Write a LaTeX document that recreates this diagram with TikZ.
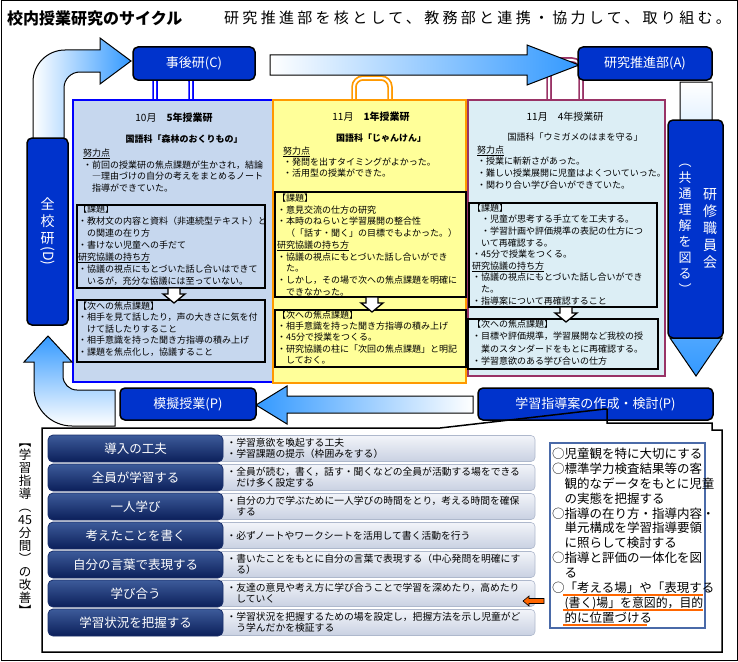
\documentclass[tikz,border=0pt]{standalone}
\usepackage{fontspec}
\usepackage{graphicx}
\setmainfont{Noto Sans CJK JP}
\newfontfamily\spacedjp{Noto Sans CJK JP}[LetterSpace=22]
\definecolor{dblue}{HTML}{0033CC}
\definecolor{lpanel}{HTML}{C6D7EE}
\definecolor{ypanel}{HTML}{FFFF99}
\definecolor{cpanel}{HTML}{DCEEF5}
\definecolor{orng}{HTML}{FF9900}
\definecolor{maroonc}{HTML}{993366}
\definecolor{arrblue}{HTML}{3399FF}
\definecolor{navytop}{HTML}{3D5B9A}
\definecolor{navybot}{HTML}{0B1F5A}
\definecolor{navyedge}{HTML}{1A2F6A}
\definecolor{desctop}{HTML}{F2F4F9}
\definecolor{descbot}{HTML}{C9D1E2}
\definecolor{descedge}{HTML}{AEB8CC}
\definecolor{listblue}{HTML}{4A6AA8}
\definecolor{ulorange}{HTML}{FF6600}
\begin{document}
\begin{tikzpicture}[x=1pt,y=-1pt,
  ptext/.style={anchor=north west, inner sep=0pt, align=left, font=\fontsize{9}{11.8}\selectfont},
  ttext/.style={inner sep=0pt, font=\fontsize{10}{12}\selectfont},
  stext/.style={inner sep=0pt, font=\fontsize{9}{11}\selectfont},
  pbox/.style={draw=black, line width=1.3pt},
  darkbox/.style={draw=black, line width=1.5pt, fill=dblue, rounded corners=5pt, text=white, font=\fontsize{13}{15}\selectfont, inner sep=0pt},
  vtext/.style={inner sep=0pt, text=white, align=center},
  rowbox/.style={draw=navyedge, line width=0.8pt, rounded corners=5pt, top color=navytop, bottom color=navybot, text=white, font=\fontsize{12.5}{14}\selectfont, minimum width=175pt, minimum height=27pt, inner sep=0pt},
  descbox/.style={draw=descedge, line width=0.6pt, rounded corners=4pt, top color=desctop, bottom color=descbot, text width=300pt, align=left, font=\fontsize{9.8}{11}\selectfont, minimum width=317pt, minimum height=26pt, inner xsep=0pt, inner ysep=0pt},
  ringout/.style={line width=5.5pt, rounded corners=9pt},
  ringin/.style={line width=2pt, white, rounded corners=9pt},
  blockarrow/.style={draw=black, line width=1pt},
  downarr/.pic={\draw[fill=white, line width=1.3pt] (-6,0) -- (6,0) -- (6,6) -- (11,6) -- (0,15) -- (-11,6) -- (-6,6) -- cycle;}
]
\useasboundingbox (0,0) rectangle (738,661);
\draw[line width=1pt] (1,1) rectangle (737,660);

% title
\node[anchor=west, inner sep=0pt, font=\fontsize{16}{18}\selectfont\bfseries] (title) at (7,18) {校内授業研究のサイクル};
\node[anchor=west, inner sep=0pt, font=\fontsize{15}{18}\selectfont\spacedjp] (subtitle) at (224,18) {研究推進部を核として、教務部と連携・協力して、取り組む。};

% rings
\draw[ringout, blue] (155,106) |- (191,72) -- (191,106);
\draw[ringin] (155,106) |- (191,72) -- (191,106);
\draw[ringout, orng] (354,106) |- (390,78) -- (390,106);
\draw[ringin] (354,106) |- (390,78) -- (390,106);
\draw[ringout, maroonc] (549,106) |- (581,60) -- (581,106);
\draw[ringin] (549,106) |- (581,60) -- (581,106);

% panels
\draw[line width=2pt, draw=blue, fill=lpanel] (73,100) rectangle (275,382);
\draw[line width=2pt, draw=orng, fill=ypanel] (273,100) rectangle (466,383);
\draw[line width=2pt, draw=maroonc, fill=cpanel] (468,100) rectangle (665,376);

% left panel
\node[ttext] (lt1) at (174,118) {10月　\textbf{5年授業研}};
\node[stext, font=\fontsize{9}{11}\selectfont\bfseries] (lt2) at (184,139) {国語科「森林のおくりもの」};
\node[ptext] (lp1) at (83,148.5) {\underline{努力点}\\・前回の授業研の焦点課題が生かされ，結論\\　―理由づけの自分の考えをまとめるノート\\　指導ができていた。};
\draw[pbox] (77,205) rectangle (265,288);
\node[ptext, font=\fontsize{9}{12}\selectfont] (lp2) at (78,204.5) {【課題】\\・教材文の内容と資料（非連続型テキスト）と\\　の関連の在り方\\・書けない児童への手だて\\\underline{研究協議の持ち方}\\・協議の視点にもとづいた話し合いはできて\\　いるが，充分な協議には至っていない。};
\draw[pbox] (77,300) rectangle (265,362);
\node[ptext, font=\fontsize{9}{11.5}\selectfont] (lp3) at (78,301.5) {【次への焦点課題】\\・相手を見て話したり，声の大きさに気を付\\　けて話したりすること\\・相手意識を持った聞き方指導の積み上げ\\・課題を焦点化し，協議すること};
\pic at (174,288) {downarr};

% middle panel
\node[ttext] (mt1) at (371,117) {11月　\textbf{1年授業研}};
\node[stext, font=\fontsize{9}{11}\selectfont\bfseries] (mt2) at (381,138) {国語科「じゃんけん」};
\node[ptext, font=\fontsize{9}{11}\selectfont] (mp1) at (283,146.5) {\underline{努力点}\\・発問を出すタイミングがよかった。\\・活用型の授業ができた。};
\draw[pbox] (275,192) rectangle (466,297);
\node[ptext, font=\fontsize{9}{11.75}\selectfont] (mp2) at (277,193.5) {【課題】\\・意見交流の仕方の研究\\・本時のねらいと学習展開の整合性\\　（「話す・聞く」の目標でもよかった。）\\\underline{研究協議の持ち方}\\・協議の視点にもとづいた話し合いができ\\　た。\\・しかし，その場で次への焦点課題を明確に\\　できなかった。};
\draw[pbox] (275,310) rectangle (466,367);
\node[ptext, font=\fontsize{9}{11.25}\selectfont] (mp3) at (277,310.5) {【次への焦点課題】\\・相手意識を持った聞き方指導の積み上げ\\・45分で授業をつくる。\\・研究協議の柱に「次回の焦点課題」と明記\\　しておく。};
\pic at (372,297) {downarr};

% right panel
\node[ttext] (rt1) at (565,117) {11月　4年授業研};
\node[stext] (rt2) at (575,137) {国語科「ウミガメのはまを守る」};
\node[ptext, font=\fontsize{9}{11.7}\selectfont] (rp1) at (477,145.5) {\underline{努力点}\\・授業に斬新さがあった。\\・難しい授業展開に児童はよくついていった。\\・関わり合い学び合いができていた。};
\draw[pbox] (469,203) rectangle (657,307);
\node[ptext, font=\fontsize{9}{11.6}\selectfont] (rp2) at (472,203.5) {【課題】\\　・児童が思考する手立てを工夫する。\\　・学習計画や評価規準の表記の仕方につ\\　いて再確認する。\\・45分で授業をつくる。\\\underline{研究協議の持ち方}\\・協議の視点にもとづいた話し合いができ\\　た。\\・指導案について再確認すること};
\draw[pbox] (468,319) rectangle (658,369);
\node[ptext, font=\fontsize{9}{12.5}\selectfont] (rp3) at (472,319.5) {【次への焦点課題】\\・目標や評価規準，学習展開など我校の授\\　業のスタンダードをもとに再確認する。\\・学習意欲のある学び合いの仕方};
\pic at (566,307) {downarr};

% block arrows
\shadedraw[blockarrow, left color=white, right color=arrblue] (270,55) -- (527,55) -- (527,45) -- (579,65) -- (527,85) -- (527,75) -- (270,75) -- cycle;
\shadedraw[blockarrow, left color=white, right color=arrblue] (33,140) -- (33,82) arc[start angle=180, end angle=270, radius=32] -- (100,50) -- (100,38) -- (131,61) -- (100,84) -- (100,72) -- (80,72) arc[start angle=270, end angle=180, radius=16] -- (64,140) -- cycle;
\shadedraw[blockarrow, top color=arrblue, bottom color=white] (115,426) -- (72,426) arc[start angle=90, end angle=180, radius=38] -- (34,362) -- (24,362) -- (48,336) -- (72,362) -- (63,362) -- (63,376) arc[start angle=180, end angle=90, radius=14] -- (115,390) -- cycle;
\shadedraw[blockarrow, top color=white, bottom color=arrblue] (680,82) -- (712,82) -- (712,338) -- (722,338) -- (696,376) -- (670,338) -- (680,338) -- cycle;
\shadedraw[blockarrow, left color=arrblue, right color=white] (473,396) -- (287,396) -- (287,386) -- (256,405) -- (287,424) -- (287,413) -- (473,413) -- cycle;

% dark boxes
\node[darkbox, minimum width=122pt, minimum height=33pt] (jigo) at (194,63.5) {事後研(C)};
\node[darkbox, minimum width=134pt, minimum height=33pt] (suishin) at (645,63.5) {研究推進部(A)};
\node[darkbox, minimum width=136pt, minimum height=32pt] (mogi) at (188,404) {模擬授業(P)};
\node[darkbox, minimum width=235pt, minimum height=32pt] (shidoan) at (595.5,404) {学習指導案の作成・検討(P)};
\node[darkbox, minimum width=41pt, minimum height=187pt] (zenko) at (47.5,231.5) {};
\node[vtext, font=\fontsize{14}{17}\selectfont] (zenkot) at (zenko.center) {全\\校\\研\\\rotatebox[origin=c]{-90}{(D)}};
\node[darkbox, minimum width=55pt, minimum height=218pt] (kenshu) at (695.5,229) {};
\node[vtext, font=\fontsize{14}{17}\selectfont] (kenshuA) at (710,229) {研\\修\\職\\員\\会};
\node[vtext, font=\fontsize{13}{16}\selectfont] (kenshuB) at (685,229) {︵\\共\\通\\理\\解\\を\\図\\る\\︶};

% bottom frame
\draw[line width=1.5pt] (42,428) -- (440,428) -- (605,409) -- (607,409) -- (607,423) -- (712,423) -- (712,430) -- (722,430) -- (722,652) -- (42,652) -- cycle;
\node[inner sep=0pt, align=center, font=\fontsize{12.5}{13}\selectfont] (vlabel) at (25,530) {︻\\学\\習\\指\\導\\︵\\45\\分\\間\\︶\\の\\改\\善\\︼};

% description boxes
\node[descbox] (d1) at (376.5,448.5) {・学習意欲を喚起する工夫\\・学習課題の提示（枠囲みをする）};
\node[descbox] (d2) at (376.5,477.5) {・全員が読む，書く，話す・聞くなどの全員が活動する場をできる\\　だけ多く設定する};
\node[descbox] (d3) at (376.5,506.5) {・自分の力で学ぶために一人学びの時間をとり，考える時間を確保\\　する};
\node[descbox] (d4) at (376.5,535.5) {・必ずノートやワークシートを活用して書く活動を行う};
\node[descbox] (d5) at (376.5,564.5) {・書いたことをもとに自分の言葉で表現する（中心発問を明確にす\\　る）};
\node[descbox] (d6) at (376.5,593.5) {・友達の意見や考え方に学び合うことで学習を深めたり，高めたり\\　していく};
\node[descbox] (d7) at (376.5,622.5) {・学習状況を把握するための場を設定し，把握方法を示し児童がど\\　う学んだかを検証する};

% row boxes
\node[rowbox] (r1) at (135.5,448.5) {導入の工夫};
\node[rowbox] (r2) at (135.5,477.5) {全員が学習する};
\node[rowbox] (r3) at (135.5,506.5) {一人学び};
\node[rowbox] (r4) at (135.5,535.5) {考えたことを書く};
\node[rowbox] (r5) at (135.5,564.5) {自分の言葉で表現する};
\node[rowbox] (r6) at (135.5,593.5) {学び合う};
\node[rowbox] (r7) at (135.5,622.5) {学習状況を把握する};

% orange arrow
\draw[fill=ulorange, draw=black, line width=0.6pt] (523,601) -- (529,596) -- (529,598.5) -- (544,598.5) -- (544,603.5) -- (529,603.5) -- (529,606) -- cycle;

% list box
\node[draw=listblue, line width=1.2pt, fill=white, minimum width=155pt, minimum height=185pt, inner sep=0pt] (listbox) at (627.5,535.5) {};
\node[ptext, font=\fontsize{12.5}{14.9}\selectfont] (listtext) at (552,447.75) {○児童観を特に大切にする\\○標準学力検査結果等の客\\　観的なデータをもとに児童\\　の実態を把握する\\○指導の在り方・指導内容・\\　単元構成を学習指導要領\\　に照らして検討する\\○指導と評価の一体化を図\\　る\\○「考える場」や「表現する\\　\scalebox{0.95}[1]{(書く)場」を意図的，目的}\\　的に位置づける};
\draw[ulorange, line width=1.5pt] (563,595) -- (703,595);
\draw[ulorange, line width=1.5pt] (563,610) -- (703,610);
\draw[ulorange, line width=1.5pt] (563,625) -- (647,625);
\end{tikzpicture}
\end{document}
